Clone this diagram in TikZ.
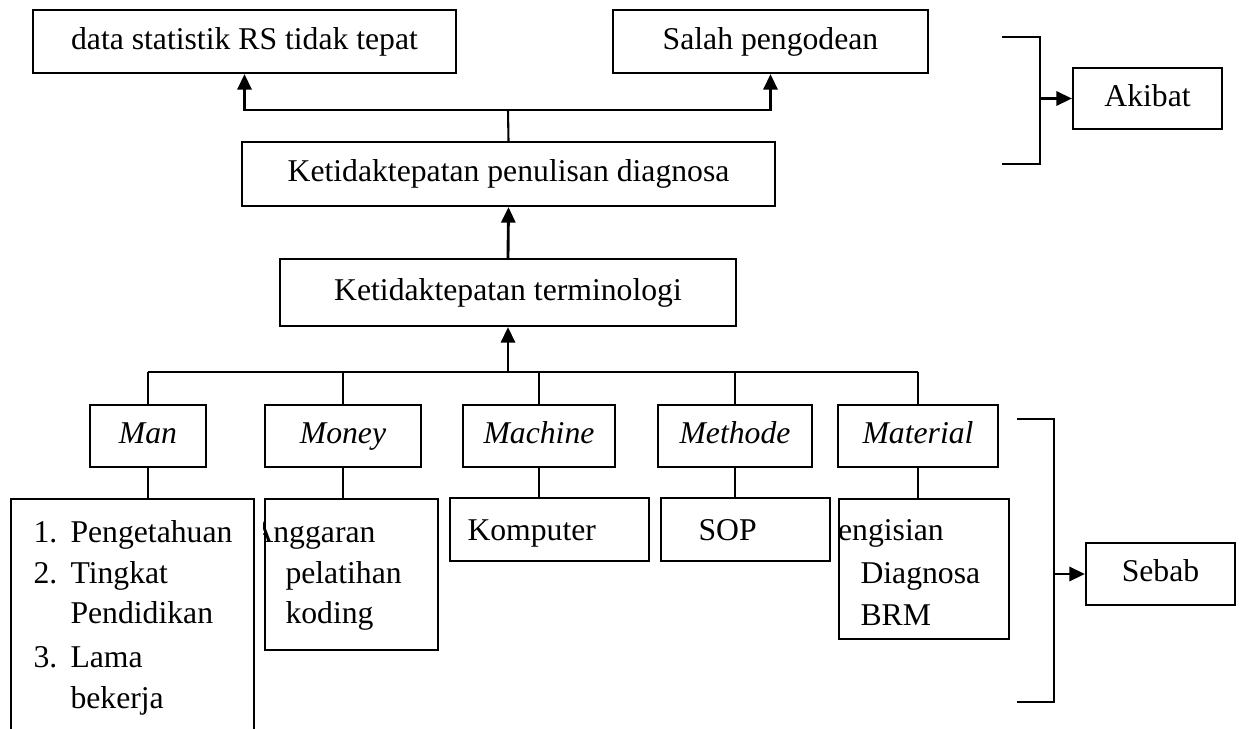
\documentclass[tikz,border=0pt]{standalone}
\usepackage{fontspec}
\setmainfont{Liberation Serif}
\usetikzlibrary{arrows.meta,positioning,fit}

\newcommand{\boxfont}{\fontsize{12.2pt}{14pt}\selectfont}

\begin{document}
\begin{tikzpicture}[x=0.385pt, y=-0.385pt,
    font=\boxfont,
    every label/.append style={text height=8.4pt, text depth=2.6pt, inner sep=0},
    box/.style={draw, line width=0.8pt, inner sep=0},
    it/.style={font=\boxfont\itshape},
    txt/.style={inner sep=0, anchor=base west},
    line/.style={line width=0.8pt},
    arr/.style={line width=1.1pt, -{Triangle[length=6pt,width=5.4pt]}},
]
    \useasboundingbox (0,0) rectangle (1240,728);

    % akibat
    \node[box, fit={(33,10) (456,73)}, label=center:data statistik RS tidak tepat] (eff1) {};
    \node[box, fit={(613,10) (928,73)}, label=center:Salah pengodean] (eff2) {};
    \node[box, fit={(1073,68) (1222,129)}, label=center:Akibat] (akibat) {};
    \node[box, fit={(242,142) (775,206)}, label=center:Ketidaktepatan penulisan diagnosa] (diag) {};
    \node[box, fit={(280,259) (736,326)}, label=center:Ketidaktepatan terminologi] (term) {};

    % sebab (5M)
    \node[box, fit={(90,405) (206,467)}, label={[it]center:Man}] (man) {};
    \node[box, fit={(265,405) (421,467)}, label={[it]center:Money}] (money) {};
    \node[box, fit={(463,405) (615,467)}, label={[it]center:Machine}] (machine) {};
    \node[box, fit={(658,405) (812,467)}, label={[it]center:Methode}] (methode) {};
    \node[box, fit={(838,405) (998,467)}, label={[it]center:Material}] (material) {};
    \node[box, fit={(1086,543) (1235,605)}, label=center:Sebab] (sebab) {};

    % rincian
    \node[box, fit={(11,499) (254,740)}] (manlist) {};
    \node[box, fit={(265,499) (438,650)}] (moneylist) {};
    \node[box, fit={(450,498) (649,561)}] (machlist) {};
    \node[box, fit={(661,498) (830,561)}] (methlist) {};
    \node[box, fit={(839,499) (1009,639)}] (matlist) {};

    \node[txt] (m1) at (33,542) {1.};
    \node[txt] (m1t) at (70,542) {Pengetahuan};
    \node[txt] (m2) at (33,583) {2.};
    \node[txt] (m2t) at (70,583) {Tingkat};
    \node[txt] (m2u) at (70,623) {Pendidikan};
    \node[txt] (m3) at (33,667) {3.};
    \node[txt] (m3t) at (70,667) {Lama};
    \node[txt] (m3u) at (70,708) {bekerja};

    \begin{scope}
        \clip (moneylist.south west) rectangle (moneylist.north east);
        \node[txt] (g1) at (250,542) {Anggaran};
        \node[txt] (g2) at (285,583) {pelatihan};
        \node[txt] (g3) at (285,623) {koding};
    \end{scope}
    \node[txt] (k1) at (467,540) {Komputer};
    \node[txt] (s1) at (698,540) {SOP};
    \begin{scope}
        \clip (matlist.south west) rectangle (matlist.north east);
        \node[txt] (p1) at (820,540) {Pengisian};
        \node[txt] (p2) at (860,583) {Diagnosa};
        \node[txt] (p3) at (860,625) {BRM};
    \end{scope}

    % panah ke atas
    \coordinate (split) at (508,110);
    \draw[line] (diag.north) -- (split);
    \draw[arr] (split) -| (eff1.south);
    \draw[arr] (split) -| (eff2.south);
    \draw[arr] (term.north) -- (diag.south);
    \coordinate (bus) at (508,372);
    \draw[arr] (bus) -- (term.south);
    \draw[line] (man.north |- bus) -- (material.north |- bus);
    \foreach \c in {man,money,machine,methode,material}
        \draw[line] (\c.north |- bus) -- (\c.north);
    \draw[line] (man.south) -- (man.south |- manlist.north);
    \draw[line] (money.south) -- (money.south |- moneylist.north);
    \draw[line] (machine.south) -- (machine.south |- machlist.north);
    \draw[line] (methode.south) -- (methode.south |- methlist.north);
    \draw[line] (material.south) -- (material.south |- matlist.north);

    % kurung
    \coordinate (akt) at (1002,37);
    \coordinate (akb) at (1002,164);
    \draw[line] (akt) -- ++(38,0) coordinate (akr) -- (akr |- akb) -- (akb);
    \draw[arr] (akr |- akibat.west) -- (akibat.west);
    \coordinate (sbt) at (1017,419);
    \coordinate (sbb) at (1017,702);
    \draw[line] (sbt) -- ++(37,0) coordinate (sbr) -- (sbr |- sbb) -- (sbb);
    \draw[arr] (sbr |- sebab.west) -- (sebab.west);
\end{tikzpicture}
\end{document}
